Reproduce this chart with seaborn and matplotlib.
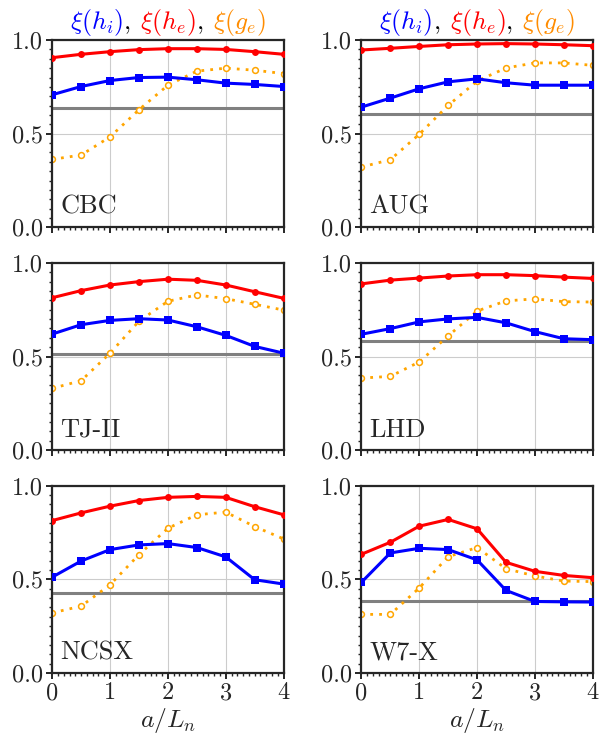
import numpy as np
import pandas as pd
import matplotlib
matplotlib.use("Agg")
import matplotlib.pyplot as plt
import seaborn as sns
from matplotlib.offsetbox import TextArea, HPacker, AnchoredOffsetbox, DrawingArea
from matplotlib.ticker import MultipleLocator

# ---------------- data ----------------
x_vals = [0, 0.5, 1, 1.5, 2, 2.5, 3, 3.5, 4]
devices = ["CBC", "AUG", "TJ-II", "LHD", "NCSX", "W7-X"]

xi_he = {
    "CBC":   [0.906, 0.924, 0.938, 0.949, 0.954, 0.954, 0.950, 0.938, 0.924],
    "AUG":   [0.947, 0.956, 0.966, 0.975, 0.979, 0.981, 0.979, 0.975, 0.970],
    "TJ-II": [0.814, 0.852, 0.882, 0.900, 0.913, 0.907, 0.882, 0.846, 0.811],
    "LHD":   [0.888, 0.908, 0.919, 0.930, 0.937, 0.937, 0.932, 0.924, 0.917],
    "NCSX":  [0.814, 0.855, 0.891, 0.921, 0.938, 0.943, 0.938, 0.888, 0.845],
    "W7-X":  [0.634, 0.698, 0.784, 0.820, 0.770, 0.591, 0.543, 0.521, 0.509],
}
xi_hi = {
    "CBC":   [0.708, 0.752, 0.784, 0.800, 0.802, 0.788, 0.770, 0.763, 0.752],
    "AUG":   [0.642, 0.690, 0.740, 0.777, 0.793, 0.772, 0.759, 0.759, 0.759],
    "TJ-II": [0.620, 0.670, 0.693, 0.702, 0.695, 0.659, 0.613, 0.554, 0.518],
    "LHD":   [0.619, 0.649, 0.685, 0.701, 0.709, 0.680, 0.633, 0.595, 0.590],
    "NCSX":  [0.512, 0.598, 0.659, 0.684, 0.691, 0.670, 0.620, 0.498, 0.475],
    "W7-X":  [0.484, 0.641, 0.666, 0.659, 0.604, 0.441, 0.382, 0.380, 0.379],
}
xi_ge = {
    "CBC":   [0.363, 0.386, 0.483, 0.628, 0.759, 0.834, 0.850, 0.839, 0.821],
    "AUG":   [0.322, 0.361, 0.497, 0.651, 0.781, 0.851, 0.878, 0.878, 0.865],
    "TJ-II": [0.330, 0.371, 0.518, 0.689, 0.795, 0.829, 0.809, 0.779, 0.748],
    "LHD":   [0.385, 0.394, 0.471, 0.610, 0.743, 0.797, 0.808, 0.793, 0.791],
    "NCSX":  [0.321, 0.357, 0.471, 0.632, 0.773, 0.845, 0.859, 0.782, 0.716],
    "W7-X":  [0.313, 0.313, 0.454, 0.621, 0.670, 0.557, 0.518, 0.491, 0.488],
}
baseline = {"CBC": 0.637, "AUG": 0.605, "TJ-II": 0.511,
            "LHD": 0.581, "NCSX": 0.425, "W7-X": 0.382}

title_parts = [(r"$\xi(h_i)$", "#0000ff"), (r"$,$", "black"),
               (r"$\xi(h_e)$", "#ff0000"), (r"$,$", "black"),
               (r"$\xi(g_e)$", "#ff8c00")]
xlabel = r"$a/L_n$"

# ---------------- style ----------------
sns.set_style("ticks")
plt.rcParams["font.family"] = "serif"
plt.rcParams["font.serif"] = ["cmr10", "DejaVu Serif"]
plt.rcParams["mathtext.fontset"] = "cm"
plt.rcParams["axes.formatter.use_mathtext"] = True
plt.rcParams["axes.unicode_minus"] = False

fig, axes = plt.subplots(3, 2, figsize=(6.0, 7.42), dpi=100)
fig.subplots_adjust(left=0.087, right=0.988, top=0.946, bottom=0.093,
                    wspace=0.336, hspace=0.19)

for i, dev in enumerate(devices):
    ax = axes[i // 2, i % 2]
    df = pd.DataFrame({"x": x_vals, "hi": xi_hi[dev], "he": xi_he[dev],
                       "ge": xi_ge[dev]})
    ax.grid(True, color="#cccccc", linewidth=0.8, zorder=0)
    ax.axhline(baseline[dev], color="#808080", linewidth=2.2, zorder=1)
    sns.lineplot(data=df, x="x", y="ge", ax=ax, color="#ffa500",
                 linestyle=(0, (1, 2.2)), linewidth=2.0, marker="o",
                 markersize=4.2, markerfacecolor="white",
                 markeredgecolor="#ffa500", markeredgewidth=1.1, zorder=2)
    sns.lineplot(data=df, x="x", y="hi", ax=ax, color="#0000ff",
                 linewidth=2.2, marker="s", markersize=5.5,
                 markeredgewidth=0, zorder=3)
    sns.lineplot(data=df, x="x", y="he", ax=ax, color="#ff0000",
                 linewidth=2.2, marker="o", markersize=5.0,
                 markeredgewidth=0, zorder=4)
    ax.set_xlim(0, 4)
    ax.set_ylim(0, 1)
    ax.xaxis.set_major_locator(MultipleLocator(1))
    ax.xaxis.set_minor_locator(MultipleLocator(0.1))
    ax.yaxis.set_major_locator(MultipleLocator(0.5))
    ax.yaxis.set_minor_locator(MultipleLocator(0.05))
    ax.set_yticks([0, 0.5, 1.0])
    ax.set_yticklabels(["0.0", "0.5", "1.0"])
    ax.tick_params(which="major", direction="out", length=4.5, width=1.4,
                   labelsize=17.5, pad=2)
    ax.tick_params(which="minor", direction="out", length=2.5, width=1.0)
    for sp in ax.spines.values():
        sp.set_linewidth(1.6)
        sp.set_visible(True)
    ax.set_ylabel("")
    if i // 2 == 2:
        ax.set_xlabel(xlabel, fontsize=18.5, labelpad=1)
        ax.set_xticks([0, 1, 2, 3, 4])
        ax.set_xticklabels(["0", "1", "2", "3", "4"])
    else:
        ax.set_xlabel("")
        ax.set_xticklabels([])
    ax.text(0.035, 0.045, dev, transform=ax.transAxes, fontsize=19,
            ha="left", va="bottom", zorder=6)
    if i // 2 == 0:
        children = []
        for k, (t, c) in enumerate(title_parts):
            children.append(TextArea(t, textprops=dict(color=c, fontsize=18.5)))
            if t == r"$,$":
                children.append(DrawingArea(7, 1))
        pack = HPacker(children=children, align="baseline", pad=0, sep=0)
        anch = AnchoredOffsetbox(loc="lower center", child=pack, pad=0.0,
                                 frameon=False, bbox_to_anchor=(0.5, 1.01),
                                 bbox_transform=ax.transAxes, borderpad=0.0)
        ax.add_artist(anch)

fig.savefig("out.png", dpi=100)
